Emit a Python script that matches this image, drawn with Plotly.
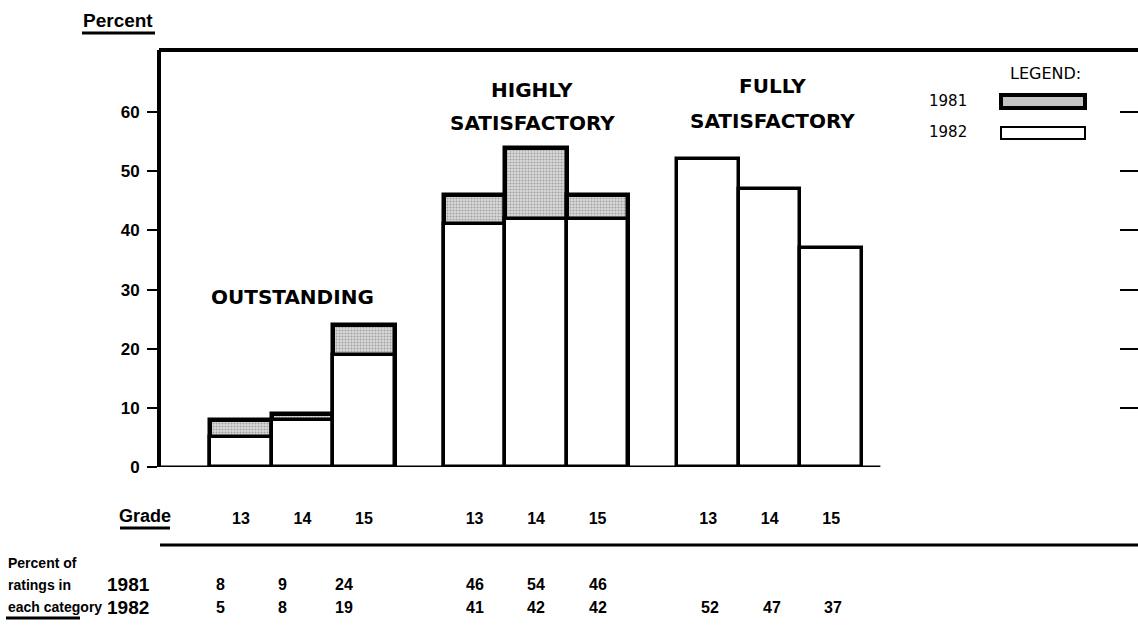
import plotly.graph_objects as go

# ---------------- data ----------------
categories = ["OUTSTANDING", "HIGHLY SATISFACTORY", "FULLY SATISFACTORY"]
category_lines = [["OUTSTANDING"], ["HIGHLY", "SATISFACTORY"], ["FULLY", "SATISFACTORY"]]
grades = ["13", "14", "15"]
pct_1981 = [8, 9, 24, 46, 54, 46, None, None, None]
pct_1982 = [5, 8, 19, 41, 42, 42, 52, 47, 37]
y_ticks = [0, 10, 20, 30, 40, 50, 60]
years = ["1981", "1982"]

# ---------------- layout helpers ----------------
W, H = 1138, 639
L, R, T, B = 161, 0, 50, 172
GROUP_STEP = 3.8
positions = [g * GROUP_STEP + i for g in range(len(categories)) for i in range(len(grades))]
grade_text = grades * len(categories)
YMAX = 70.5
XMIN, XMAX = -1.3, 14.59


def px(x):
    return (x - L) / (W - L - R)


def py(y):
    return (H - B - y) / (H - T - B)


BOLD = dict(family="Liberation Sans", color="black", weight="bold")
CAPS = dict(family="DejaVu Sans", color="black", weight="bold", size=20)
STIPPLE = "#c4c4c4"

fig = go.Figure()

fig.add_bar(
    x=positions, y=pct_1981, width=1, name=years[0], showlegend=False,
    marker=dict(color=STIPPLE,
                pattern=dict(shape=".", fgcolor="#6a6a6a", bgcolor="#dadada", size=3, solidity=0.4),
                line=dict(color="black", width=4.5)),
    hoverinfo="skip",
)
fig.add_bar(
    x=positions, y=pct_1982, width=1, name=years[1], showlegend=False,
    marker=dict(color="white", line=dict(color="black", width=3.5)),
    hoverinfo="skip",
)
# carrier for right-hand tick marks
fig.add_scatter(x=[None], y=[None], yaxis="y2", showlegend=False, hoverinfo="skip")

annotations = []
shapes = []

# category titles
cat_shift = [-10, -4, 3]
cat_y = [[297], [90, 123], [86, 121]]
for g, lines in enumerate(category_lines):
    mid = positions[g * 3 + 1]
    for k, txt in enumerate(lines):
        annotations.append(dict(x=mid, xref="x", y=py(cat_y[g][k]), yref="paper", text=txt,
                                xshift=cat_shift[g], font=CAPS))

# table values
row_y = {years[0]: 584, years[1]: 607}
tbl_shift = [-20, 0, 2]
for series, yr in ((pct_1981, years[0]), (pct_1982, years[1])):
    for i, v in enumerate(series):
        if v is None:
            continue
        annotations.append(dict(x=positions[i], xref="x", y=py(row_y[yr]), yref="paper",
                                text=str(v), xshift=tbl_shift[i // 3], font=dict(BOLD, size=16)))
    annotations.append(dict(x=px(128), y=py(row_y[yr]), text=yr, font=dict(BOLD, size=19)))

# left texts and legend
annotations += [
    dict(x=px(118), y=py(20), text="Percent", font=dict(BOLD, size=19)),
    dict(x=px(145), y=py(516), text="Grade", font=dict(BOLD, size=18)),
    dict(x=px(6), y=py(563), text="Percent of", font=dict(BOLD, size=14), xanchor="left"),
    dict(x=px(6), y=py(585), text="ratings in", font=dict(BOLD, size=14), xanchor="left"),
    dict(x=px(6), y=py(607), text="each category", font=dict(BOLD, size=14), xanchor="left"),
    dict(x=px(1045), y=py(74), text="LEGEND:", font=dict(family="DejaVu Sans", size=16, color="black")),
    dict(x=px(948), y=py(101), text=years[0], font=dict(family="DejaVu Sans", size=15, color="black")),
    dict(x=px(948), y=py(132), text=years[1], font=dict(family="DejaVu Sans", size=15, color="black")),
]
for a in annotations:
    a.setdefault("xref", "paper")
    a.setdefault("yref", "paper")
    a.setdefault("showarrow", False)
    a.setdefault("xanchor", "center")
    a.setdefault("yanchor", "middle")


def hline(x0, x1, y, w):
    return dict(type="line", xref="paper", yref="paper", x0=px(x0), x1=px(x1), y0=py(y), y1=py(y),
                line=dict(color="black", width=w))


shapes += [
    hline(159, 1138, 50, 4),          # top frame
    hline(160, 1138, 545, 3),         # table rule
    hline(82, 155, 33, 3),            # Percent underline
    hline(120, 170, 528, 3),          # Grade underline
    hline(6, 80, 618, 3),             # each category underline
    dict(type="line", xref="x", yref="y", x0=XMIN, x1=positions[-1] + 0.8, y0=0, y1=0,
         line=dict(color="black", width=3)),    # baseline
    dict(type="rect", xref="paper", yref="paper", x0=px(1001), x1=px(1085), y0=py(108), y1=py(95),
         fillcolor=STIPPLE, line=dict(color="black", width=4)),
    dict(type="rect", xref="paper", yref="paper", x0=px(1001), x1=px(1085), y0=py(139), y1=py(127),
         fillcolor="white", line=dict(color="black", width=2)),
]

fig.update_layout(
    width=W, height=H,
    margin=dict(l=L, r=R, t=T, b=B, pad=0),
    paper_bgcolor="white", plot_bgcolor="white",
    barmode="overlay", bargap=0,
    showlegend=False,
    xaxis=dict(range=[XMIN, XMAX], tickvals=positions, ticktext=grade_text, ticks="",
               showline=False, showgrid=False, zeroline=False, ticklabelstandoff=40,
               tickfont=dict(BOLD, size=16)),
    yaxis=dict(range=[0, YMAX], tickvals=y_ticks, ticks="outside", ticklen=10, tickwidth=2,
               tickcolor="black", showline=True, linewidth=4, linecolor="black",
               showgrid=False, zeroline=False, tickfont=dict(BOLD, size=17), ticklabelstandoff=4),
    yaxis2=dict(range=[0, YMAX], overlaying="y", side="right", tickvals=y_ticks[1:], ticks="inside",
                ticklen=18, tickwidth=2, tickcolor="black", showticklabels=False,
                showline=False, showgrid=False, zeroline=False),
    annotations=annotations,
    shapes=shapes,
)

fig.write_html("out.html", config={"displayModeBar": False},
               post_script="document.body.style.margin='0';document.body.style.overflow='hidden';")
